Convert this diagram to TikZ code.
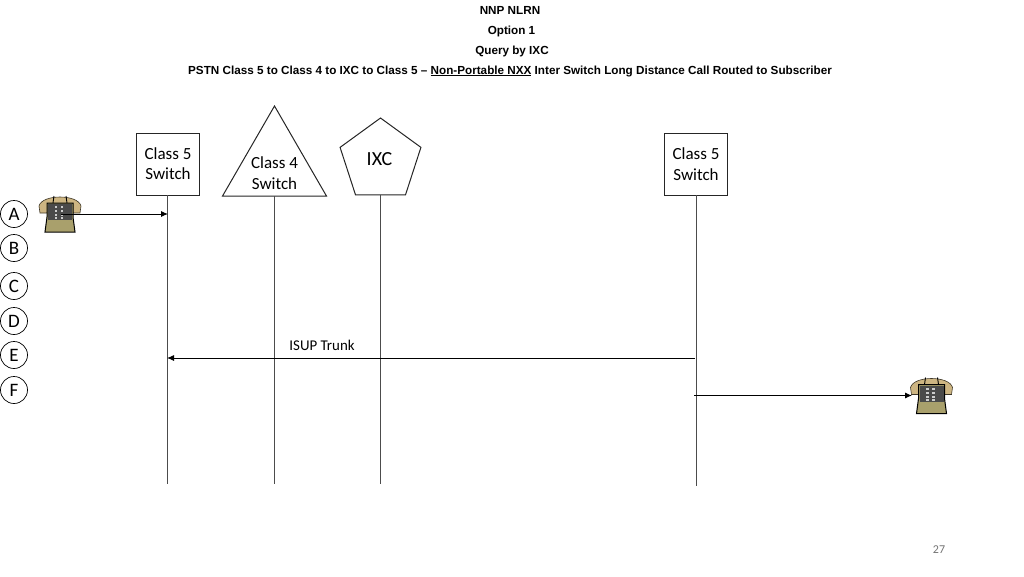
\documentclass[tikz,border=0pt]{standalone}
\usepackage{fontspec}
\setmainfont{Carlito}
\newfontfamily\headfont{Liberation Sans}
\usetikzlibrary{shapes.geometric, arrows.meta}
\definecolor{handsettan}{HTML}{CDB582}
\definecolor{bodykhaki}{HTML}{A9A06C}
\definecolor{padgray}{HTML}{4A4A4A}

\tikzset{
    entity/.style={draw=black!85, line width=1pt, fill=white, inner sep=0pt, outer sep=0pt},
    boxentity/.style={entity, minimum width=63, minimum height=62},
    polyentity/.style={entity, regular polygon},
    lifeline/.style={draw=black!70, line width=1pt},
    message/.style={draw=black, line width=0.9pt, -{Latex[length=7,width=6]}},
    callstep/.style={circle, draw=black, line width=0.7pt, minimum size=27, inner sep=0pt, font=\fontsize{19}{22}\selectfont},
    entitytext/.style={align=center, font=\fontsize{17}{20.5}\selectfont},
    headline/.style={font=\headfont\bfseries\fontsize{11.7}{13}\selectfont},
    phone/.pic={
        % handset
        \fill[fill=handsettan, draw=black!70!handsettan, line width=0.6pt] (-21,-8) .. controls (-18,-20) and (18,-20) .. (21,-8) -- (20,-1) -- (13,-1) -- (11,-8) -- (-11,-8) -- (-13,-1) -- (-20,-1) -- cycle;
        \draw[black, line width=0.9pt] (-7,-11) -- (-6,-18) (7,-11) -- (6,-18);
        % body
        \fill[fill=bodykhaki, draw=black, line width=1pt] (-13,-11) -- (13,-11) -- (13,3) -- (15,18) -- (-15,18) -- (-13,3) -- cycle;
        \fill[fill=padgray] (-12,-10) rectangle (12,6);
        \foreach \px in {-4,2}
            \foreach \py in {-7,-3,1,4}
                \fill[white!80!black] (\px-1.4,\py-1) rectangle (\px+1.4,\py+1);
    }
}

\begin{document}
\begin{tikzpicture}[x=1pt, y=-1pt]
    \useasboundingbox (0,0) rectangle (1024,576);

    % heading
    \node[headline] (titleA) at (510,10.5) {NNP NLRN};
    \node[headline] (titleB) at (511.5,31) {Option 1};
    \node[headline] (titleC) at (512,51) {Query by IXC};
    \node[headline] (titleD) at (510,71) {PSTN Class 5 to Class 4 to IXC to Class 5 – \underline{Non-Portable NXX} Inter Switch Long Distance Call Routed to Subscriber};

    % entities
    \node[boxentity] (classfiveA) at (167.5,164) {};
    \node[polyentity, regular polygon sides=3, minimum size=120] (classfour) at (274.5,166) {};
    \node[polyentity, regular polygon sides=5, minimum size=85] (ixc) at (380.5,160.5) {};
    \node[boxentity] (classfiveB) at (696,164) {};

    \node[entitytext] (labelA) at (168,163.5) {Class 5\\Switch};
    \node[entitytext] (labelB) at (274.5,173) {Class 4\\Switch};
    \node[entitytext, font=\fontsize{20}{22}\selectfont] (labelC) at (379.5,159) {IXC};
    \node[entitytext] (labelD) at (696,164) {Class 5\\Switch};

    % lifelines
    \coordinate (endA) at (167.5,484);
    \coordinate (endB) at (274.5,484);
    \coordinate (endC) at (380.5,484);
    \coordinate (endD) at (696,486);
    \draw[lifeline] (classfiveA.south) -- (endA);
    \draw[lifeline] (classfour.south) -- (endB);
    \draw[lifeline] (ixc.south) -- (endC);
    \draw[lifeline] (classfiveB.south) -- (endD);

    % call steps
    \foreach \name/\yy in {A/214,B/248,C/286,D/321,E/355,F/390}
        \node[callstep] (step\name) at (14,\yy) {\name};

    % phones
    \pic at (60,214) {phone};
    \pic at (931.5,395.5) {phone};

    % messages
    \coordinate (phoneA) at (61,214);
    \coordinate (trunkA) at (168,214);
    \coordinate (trunkB) at (695,358);
    \coordinate (trunkC) at (167,358);
    \coordinate (trunkD) at (694,395.5);
    \coordinate (phoneB) at (912,395.5);
    \draw[message] (phoneA) -- (trunkA);
    \draw[message] (trunkB) -- (trunkC);
    \draw[message] (trunkD) -- (phoneB);

    \node[font=\fontsize{14.9}{17}\selectfont] (isup) at (322,345) {ISUP Trunk};
    \node[text=black!55, font=\fontsize{12}{14}\selectfont] (pagenum) at (939,549.5) {27};
\end{tikzpicture}
\end{document}
